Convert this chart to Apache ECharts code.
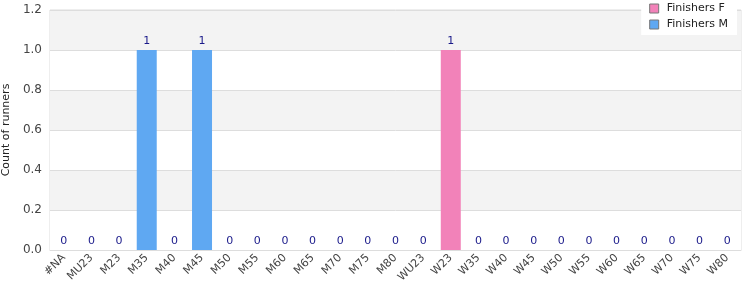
<!DOCTYPE html>
<html><head><meta charset="utf-8">
<script src="https://cdn.jsdelivr.net/npm/echarts@6/dist/echarts.min.js"></script>
<style>html,body{margin:0;padding:0;background:#fff}#c{width:750px;height:300px}</style>
</head><body><div id="c"></div>
<script>
const categories = ['#NA','MU23','M23','M35','M40','M45','M50','M55','M60','M65','M70','M75','M80','WU23','W23','W35','W40','W45','W50','W55','W60','W65','W70','W75','W80'];
const finishersF = [null,null,null,null,null,null,null,null,null,null,null,null,null,0,1,0,0,0,0,0,0,0,0,0,0];
const finishersM = [0,0,0,1,0,1,0,0,0,0,0,0,0,null,null,null,null,null,null,null,null,null,null,null,null];
const yTicks = {min:0, max:1.2, interval:0.2};

const chart = echarts.init(document.getElementById('c'), null, {renderer:'canvas'});
const lbl = {show:true, position:'top', color:'#1a1a8a', fontSize:11, fontFamily:'DejaVu Sans', distance:3};
chart.setOption({
  animation:false,
  textStyle:{fontFamily:'DejaVu Sans'},
  grid:{left:50, right:9, top:10, bottom:50, outerBoundsMode:'none', containLabel:false, show:true, borderColor:'#dddddd', borderWidth:1, backgroundColor:'transparent'},
  legend:{
    right:13, top:0, orient:'vertical', itemWidth:9, itemHeight:9, itemGap:3, icon:'rect',
    backgroundColor:'#fff', padding:[2,9,4,8],
    textStyle:{fontSize:11, lineHeight:13, color:'#222', fontFamily:'DejaVu Sans', padding:[0,0,0,3]},
    data:[{name:'Finishers F', itemStyle:{borderColor:'#777', borderWidth:1}},{name:'Finishers M', itemStyle:{borderColor:'#777', borderWidth:1}}]
  },
  xAxis:{type:'category', data:categories,
    axisLine:{lineStyle:{color:'#dddddd'}}, axisTick:{show:false},
    axisLabel:{rotate:45, interval:0, fontSize:11, color:'#444', margin:6}},
  yAxis:{type:'value', min:yTicks.min, max:yTicks.max, interval:yTicks.interval,
    name:'Count of runners', nameLocation:'middle', nameGap:38, nameRotate:90,
    nameTextStyle:{fontSize:11, color:'#222'},
    axisLine:{show:false}, axisTick:{show:false},
    axisLabel:{fontSize:12, color:'#444', margin:8, formatter:v=>v.toFixed(1)},
    splitLine:{lineStyle:{color:'#dddddd'}},
    splitArea:{show:true, areaStyle:{color:['#ffffff','#f3f3f3']}}},
  series:[
    {name:'Finishers F', type:'bar', stack:'a', data:finishersF, barWidth:20, itemStyle:{color:'#f282b9'}, label:lbl},
    {name:'Finishers M', type:'bar', stack:'a', data:finishersM, barWidth:20, itemStyle:{color:'#5fa8f2'}, label:lbl}
  ]
});
</script></body></html>
